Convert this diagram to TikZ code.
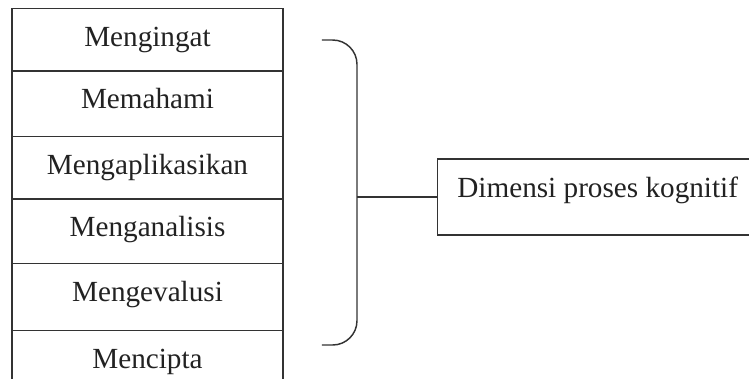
\documentclass[tikz,border=0pt]{standalone}
\usepackage{fontspec}
\setmainfont{Liberation Serif}
\usepackage{tikz}

\definecolor{garis}{HTML}{333333}
\definecolor{tulisan}{HTML}{222222}

\tikzset{
  tahap/.style={draw=garis, line width=0.6pt, inner sep=0pt,
    minimum width=111.4pt, text height=15.6pt, text=tulisan,
    font=\fontsize{12}{14}\selectfont},
  dimensi/.style={draw=garis, line width=0.6pt, inner sep=0pt,
    minimum width=131.5pt, text height=15.6pt, text depth=15.6pt,
    text=tulisan, font=\fontsize{12}{14}\selectfont}
}

\begin{document}
\begin{tikzpicture}[x=0.411pt, y=-0.411pt]
    \useasboundingbox (0, 0) rectangle (749, 378);
    \clip (0, 0) rectangle (749, 378);
    \fill [white] (0, 0) rectangle (749, 378);

    % six levels of the cognitive process
    \node[tahap, anchor=north, text depth=9.9pt](ingat) at (147.5, 8){Mengingat};
    \node[tahap, anchor=north, text depth=11.5pt](paham) at (147.5, 70){Memahami};
    \node[tahap, anchor=north, text depth=9.9pt](aplikasi) at (147.5, 136){Mengaplikasikan};
    \node[tahap, anchor=north, text depth=11.1pt](analisis) at (147.5, 198){Menganalisis};
    \node[tahap, anchor=north, text depth=11.9pt](evaluasi) at (147.5, 263){Mengevalusi};
    \node[tahap, anchor=north, text depth=11.1pt](cipta) at (147.5, 330){Mencipta};

    % brace
    \coordinate (kurungatas) at (322, 40);
    \coordinate (kurungbawah) at (322, 345);
    \coordinate (kurungtengah) at (357, 197);
    \draw [garis, line width=0.6pt, rounded corners=10pt]
      (kurungatas) -- (357, 40) -- (357, 345) -- (kurungbawah);

    % dimension box
    \node[dimensi, anchor=west](dimensi) at (437, 197){Dimensi proses kognitif};
    \draw [garis, line width=0.6pt] (kurungtengah) -- (dimensi.west);
\end{tikzpicture}
\end{document}
